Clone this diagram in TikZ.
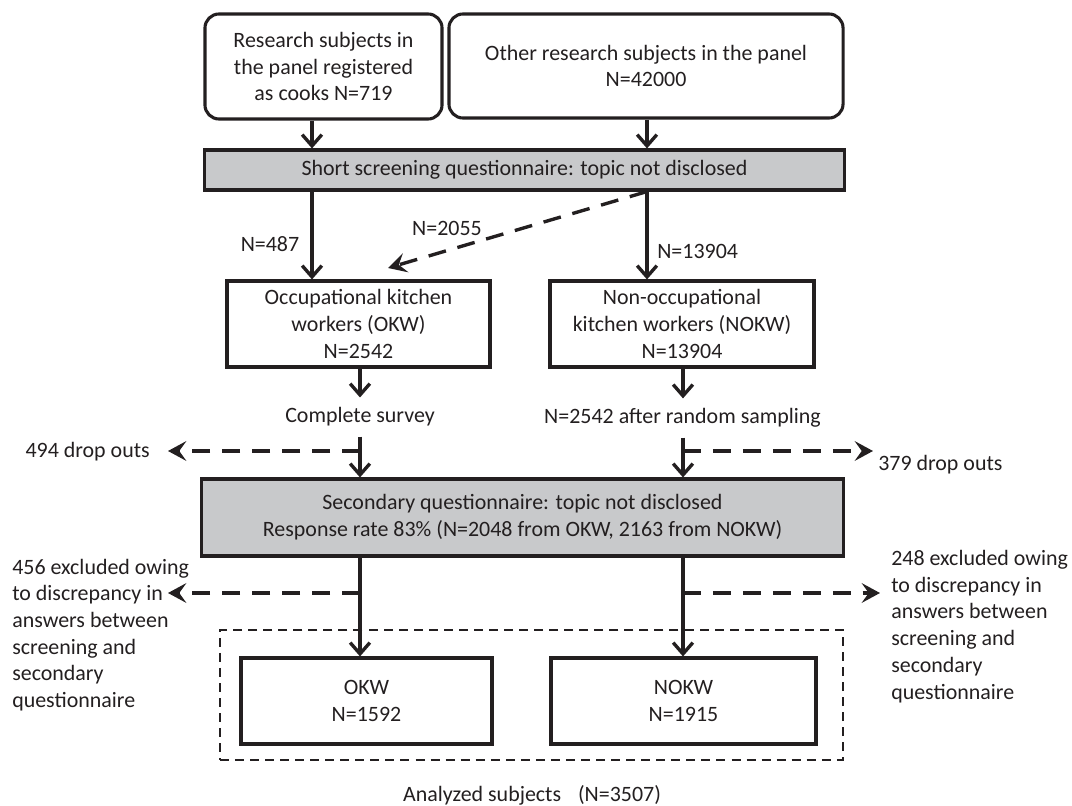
\documentclass[tikz,border=0pt]{standalone}
\usepackage{fontspec}
\setmainfont{Carlito}
\usetikzlibrary{arrows.meta}
\definecolor{ink}{RGB}{35,31,32}
\definecolor{boxgrey}{RGB}{200,201,203}
\begin{document}
\begin{tikzpicture}[x=0.025cm, y=0.025cm, font=\fontsize{15.6}{19}\selectfont]
            \tikzstyle{every node}+=[inner sep=0pt, text=ink]
            \tikzstyle{roundbox}=[draw=ink, line width=2.2pt, rounded corners=10pt, align=center]
            \tikzstyle{plainbox}=[draw=ink, line width=2.2pt, align=center]
            \tikzstyle{greybox}=[plainbox, fill=boxgrey]
            \tikzstyle{note}=[align=center, inner ysep=7pt]
            \tikzstyle{flow}=[draw=ink, line width=2.4pt, -{Straight Barb[length=8pt, width=14pt]}]
            \tikzstyle{lost}=[draw=ink, line width=2.4pt, dash pattern=on 12.8pt off 8.5pt, -{Stealth[length=13pt, width=14pt, inset=5pt]}]
            \useasboundingbox (0,0) rectangle (1072,-806);
            \coordinate (cL) at (312,0);
            \coordinate (cR) at (647,0);
            \coordinate (cA) at (360,0);
            \coordinate (cB) at (683,0);
            \node [roundbox, minimum width=5.925cm, minimum height=2.625cm] (cooks) at (323.5,-66.5) {Research subjects in\\the panel registered\\as cooks N=719};
            \node [roundbox, minimum width=9.85cm, minimum height=2.6cm] (other) at (646,-66) {Other research subjects in the panel\\N=42000};
            \node [greybox, minimum width=15.975cm, minimum height=1cm] (screen) at (524.5,-170) {Short screening questionnaire: topic not disclosed};
            \node [plainbox, minimum width=6.575cm, minimum height=2.15cm] (okw) at (358.5,-324) {Occupational kitchen\\workers (OKW)\\N=2542};
            \node [plainbox, minimum width=6.6cm, minimum height=2.15cm] (nokw) at (682,-324) {Non-occupational\\kitchen workers (NOKW)\\N=13904};
            \node [note] (survey) at (360,-417) {Complete survey};
            \node [note] (sampling) at (682.5,-418) {N=2542 after random sampling};
            \node [greybox, minimum width=16.025cm, minimum height=1.925cm] (second) at (522.5,-517.5) {Secondary questionnaire: topic not disclosed\\Response rate 83\% (N=2048 from OKW, 2163 from NOKW)};
            \node [draw=ink, line width=1pt, dash pattern=on 6.4pt off 4.3pt, minimum width=15.575cm, minimum height=3.25cm] (analysed) at (531.5,-695) {};
            \node [plainbox, minimum width=6.275cm, minimum height=2.15cm] (fokw) at (366.5,-701) {OKW\\N=1592};
            \node [plainbox, minimum width=6.625cm, minimum height=2.15cm] (fnokw) at (683.5,-701) {NOKW\\N=1915};
            \node (analysedtext) at (532,-795) {Analyzed subjects\hspace{12pt}(N=3507)};
            \node (n487) at (270,-244) {N=487};
            \node (n2055) at (447,-228) {N=2055};
            \node [anchor=west] (n13904) at (657,-251) {N=13904};
            \node [anchor=east] (drop1) at (150,-452) {494 drop outs};
            \node [anchor=west] (drop2) at (878,-465) {379 drop outs};
            \node [anchor=west, align=left] (excl1) at (12,-635) {456 excluded owing\\to discrepancy in\\answers between\\screening and\\secondary\\questionnaire};
            \node [anchor=west, align=left] (excl2) at (891,-626.5) {248 excluded owing\\to discrepancy in\\answers between\\screening and\\secondary\\questionnaire};
            \coordinate (tip2055) at (388,-268);
            \coordinate (d1) at (360,-451);
            \coordinate (d2) at (683,-451);
            \coordinate (tipd1) at (168,-451);
            \coordinate (tipd2) at (873,-451);
            \coordinate (e1) at (360,-593);
            \coordinate (e2) at (683,-593);
            \coordinate (tipe1) at (168,-593);
            \coordinate (tipe2) at (880,-593);
            \draw [flow] (cooks.south -| cL) -- (screen.north -| cL);
            \draw [flow] (other.south -| cR) -- (screen.north -| cR);
            \draw [flow] (screen.south -| cL) -- (okw.north -| cL);
            \draw [flow] (screen.south -| cR) -- (nokw.north -| cR);
            \draw [lost] (screen.south -| cR) -- (tip2055);
            \draw [flow] (okw.south -| cA) -- (survey.north);
            \draw [flow] (nokw.south -| cB) -- (sampling.north -| cB);
            \draw [flow] (survey.south) -- (second.north -| cA);
            \draw [flow] (sampling.south -| cB) -- (second.north -| cB);
            \draw [lost] (d1) -- (tipd1);
            \draw [lost] (d2) -- (tipd2);
            \draw [flow] (second.south -| cA) -- (fokw.north -| cA);
            \draw [flow] (second.south -| cB) -- (fnokw.north -| cB);
            \draw [lost] (e1) -- (tipe1);
            \draw [lost] (e2) -- (tipe2);
\end{tikzpicture}
\end{document}
